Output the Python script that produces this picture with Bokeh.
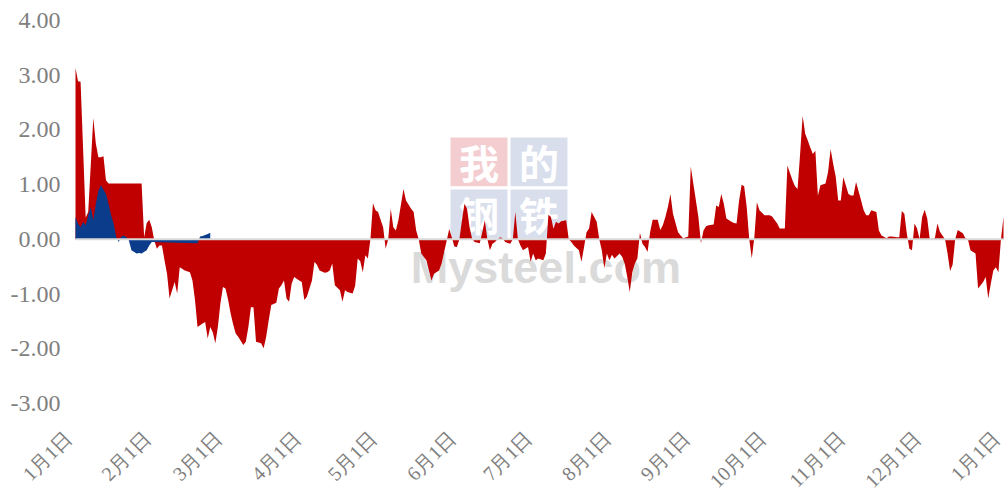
import math
from bokeh.plotting import figure
from bokeh.models import Range1d
from bokeh.embed import file_html
from bokeh.resources import INLINE
from bokeh.core.properties import value

# ---------------- data ----------------
month_days = [0, 31, 59, 90, 120, 151, 181, 212, 243, 273, 304, 334, 365]
month_labels = ["1月1日", "2月1日", "3月1日", "4月1日", "5月1日", "6月1日", "7月1日",
                "8月1日", "9月1日", "10月1日", "11月1日", "12月1日", "1月1日"]
y_ticks = [-3, -2, -1, 0, 1, 2, 3, 4]
y_labels = ["-3.00", "-2.00", "-1.00", "0.00", "1.00", "2.00", "3.00", "4.00"]

# red series: day offset from 1 Jan, value
red_day = [0, 1, 2, 4, 5, 7, 8, 9, 10, 11, 12, 13, 26, 27, 28, 29, 30, 31, 32, 33, 34, 35, 36, 37, 39, 40,
           41, 43, 45, 46, 47, 48, 50, 51, 52, 53, 54, 55, 56, 57, 58, 59, 60, 61, 62, 63, 64, 66, 67, 68,
           69, 70, 71, 73, 74, 75, 76, 77, 79, 80, 81, 82, 83, 84, 85, 86, 88, 89, 90, 91, 93, 94, 95, 96,
           98, 99, 100, 101, 102, 104, 105, 106, 107, 109, 110, 111, 112, 113, 114, 115, 116, 117, 118, 119,
           121, 122, 123, 124, 125, 126, 127, 129, 130, 132, 133, 134, 135, 136, 138, 139, 140, 141, 143,
           144, 145, 147, 148, 149, 150, 151, 152, 153, 154, 155, 156, 157, 159, 160, 161, 162, 163, 164,
           165, 166, 167, 168, 169, 171, 172, 173, 174, 175, 176, 178, 179, 180, 181, 182, 184, 185, 186,
           187, 188, 189, 190, 191, 193, 194, 195, 196, 198, 199, 200, 201, 202, 203, 205, 206, 207, 208,
           209, 210, 211, 212, 214, 215, 216, 217, 218, 219, 220, 221, 222, 223, 224, 225, 226, 227, 229,
           230, 231, 232, 233, 234, 235, 237, 238, 239, 241, 242, 243, 245, 246, 247, 248, 249, 251, 252,
           253, 254, 255, 256, 258, 259, 260, 261, 262, 263, 264, 265, 266, 267, 268, 269, 271, 273, 274,
           276, 277, 279, 280, 282, 283, 284, 285, 286, 287, 288, 289, 290, 291, 292, 293, 295, 296, 297,
           298, 299, 300, 301, 302, 304, 305, 306, 307, 309, 310, 311, 312, 313, 315, 316, 317, 319, 320,
           321, 323, 324, 325, 326, 327, 328, 329, 330, 331, 332, 333, 334, 335, 336, 338, 339, 340, 341,
           342, 343, 344, 345, 346, 347, 349, 350, 351, 352, 354, 355, 357, 358, 359, 360, 361, 362, 363,
           364, 365]
red_value = [3.13, 2.89, 2.88, 0.40, 0.50, 2.22, 1.75, 1.50, 1.50, 1.52, 1.08, 1.02, 1.02, 0.04, 0.30, 0.36,
             0.22, -0.02, -0.17, -0.11, -0.11, -0.38, -0.63, -1.08, -0.78, -0.99,
             -0.51, -0.57, -0.60, -0.75, -1.11, -1.60, -1.54, -1.51, -1.81, -1.60, -1.70, -1.90, -1.60,
             -1.17, -0.87, -0.90, -1.10, -1.35, -1.55, -1.72, -1.78, -1.93, -1.87, -1.60,
             -1.24, -1.24, -1.87, -1.90, -1.99, -1.78, -1.48, -1.20, -1.16, -0.90, -0.84, -0.75, -1.08,
             -1.14, -0.81, -0.69, -0.75, -0.78, -1.11, -1.05, -0.75, -0.41, -0.47, -0.57,
             -0.61, -0.60, -0.57, -0.44, -0.84, -0.93, -1.14, -0.93, -0.96, -0.99, -0.85, -0.35, -0.40,
             -0.60, -0.29, -0.35, 0.00, 0.66, 0.53, 0.50,
             0.22, -0.17, 0.00, 0.56, 0.22, 0.16, 0.35, 0.92, 0.71, 0.56, 0.50, 0.16, 0.00, -0.26, -0.38,
             -0.57, -0.75, -0.63, -0.57,
             -0.44, -0.23, 0.19, 0.04, -0.13, -0.14, 0.00, 0.35, 0.65, 0.56, 0.22, 0.01, -0.05, -0.07,
             0.13, 0.35, 0.00, -0.20, -0.08,
             -0.05, 0.00, 0.04, 0.02, -0.05, -0.08, 0.00, 0.50, 0.00, -0.11, -0.20, -0.14, -0.41, -0.26,
             -0.38, -0.35, -0.38, -0.26, 0.45,
             0.41, 0.20, 0.32, 0.29, 0.33, 0.35, 0.00, -0.05, -0.11, -0.20, -0.41, -0.15, 0.13, 0.20, 0.50,
             0.32, 0.00, -0.20, -0.53,
             -0.26, -0.38, -0.28, -0.35, -0.26, -0.32, -0.44, -0.68, -0.96, -0.60, -0.44, -0.35, 0.12,
             -0.08, -0.14, -0.23, 0.13, 0.36, 0.36,
             0.17, 0.26, 0.41, 0.59, 0.83, 0.47, 0.13, 0.07, 0.02, 0.05, 1.33, 1.02, 0.41, -0.07, 0.16,
             0.24, 0.26, 0.27, 0.62,
             0.59, 0.83, 0.65, 0.38, 0.32, 0.30, 0.29, 0.71, 1.00, 0.97, 0.59, 0.00, -0.35, 0.04, 0.68,
             0.53, 0.44, 0.44, 0.42,
             0.29, 0.20, 0.20, 1.35, 1.08, 0.97, 0.92, 1.56, 2.26, 1.93, 1.81, 1.68, 1.56, 1.62, 0.80,
             0.99, 1.02, 1.23, 1.65,
             1.38, 1.15, 0.71, 0.71, 1.14, 0.83, 0.80, 0.80, 1.05, 0.71, 0.53, 0.44, 0.44, 0.53, 0.50,
             0.16, 0.07, 0.02, 0.05,
             0.05, 0.04, 0.04, 0.52, 0.47, 0.10, -0.17, -0.20, 0.29, 0.20, 0.00, 0.41, 0.54, 0.38, 0.00,
             0.02, 0.29, 0.14, 0.07,
             0.00, -0.26, -0.58, -0.46, 0.00, 0.17, 0.11, 0.02, 0.00, -0.20, -0.26, -0.90, -0.78, -0.69,
             -1.08, -0.81, -0.57, -0.51, -0.60,
             0.00, 0.41]

# blue series (early part of the year only)
blue_day = [0, 1, 2, 3, 4, 5, 6, 7, 8, 9, 10, 12, 13, 14, 15, 16, 17, 18, 19, 20, 21, 22, 24, 25, 26, 28,
            29, 30, 40, 48, 49, 50, 52, 53]
blue_value = [0.41, 0.29, 0.22, 0.32, 0.26, 0.44, 0.59, 0.35, 0.65, 0.89, 0.99, 0.83, 0.65, 0.44, 0.29,
              0.05, -0.05, 0.05, 0.07, 0.04, -0.02, -0.20, -0.26, -0.25, -0.26, -0.20,
              -0.11, -0.05, -0.06, -0.07, 0.05, 0.06, 0.10, 0.12]

assert len(red_day) == len(red_value)
assert len(blue_day) == len(blue_value)

# ---------------- layout ----------------
# The plot area covers the whole canvas; the data region (1 Jan .. 1 Jan, -3 .. 4)
# sits inside it and the tick labels are placed around it with pixel offsets.
W, H = 1005, 495
data_left_px, data_right_px = 75, 1003     # canvas px of first / last day
data_top_px, data_bottom_px = 20, 403      # canvas px of 4.00 / -3.00
x0, x1 = month_days[0], month_days[-1]
y0, y1 = y_ticks[0], y_ticks[-1]
ppx = (data_right_px - data_left_px) / (x1 - x0)
ppy = (data_bottom_px - data_top_px) / (y1 - y0)
x_range = Range1d(x0 - data_left_px / ppx, x1 + (W - data_right_px) / ppx)
y_range = Range1d(y0 - (H - data_bottom_px) / ppy, y1 + data_top_px / ppy)

p = figure(width=W, height=H, output_backend="svg", toolbar_location=None,
           x_range=x_range, y_range=y_range,
           x_axis_location=None, y_axis_location=None,
           min_border_left=0, min_border_right=0, min_border_top=0, min_border_bottom=0)
p.background_fill_color = "white"
p.border_fill_color = "white"
p.outline_line_color = None
p.xgrid.grid_line_color = None
p.ygrid.grid_line_color = None

# watermark (decoration, beneath the data)
wm_left = [147.5, 171.1, 147.5, 171.1]
wm_right = [169.9, 193.5, 169.9, 193.5]
wm_top = [1.86, 1.86, 0.91, 0.91]
wm_bottom = [0.97, 0.97, 0.02, 0.02]
wm_color = ["#f3cdd0", "#d8deec", "#d8deec", "#d8deec"]
p.quad(left=wm_left, right=wm_right, top=wm_top, bottom=wm_bottom,
       fill_color=wm_color, line_color=None)
p.text(x=[(l + r) / 2 for l, r in zip(wm_left, wm_right)],
       y=[(t + b) / 2 for t, b in zip(wm_top, wm_bottom)],
       text=["我", "的", "钢", "铁"], text_color="white",
       text_font=value("Noto Sans CJK SC"), text_font_style="bold",
       text_font_size="40px", text_align="center", text_baseline="middle")
p.text(x=[185.0], y=[-0.51], text=["Mysteel.com"], text_color="#dadada",
       text_font=value("Liberation Sans"), text_font_style="bold",
       text_font_size="45px", text_align="center", text_baseline="alphabetic")

# areas
p.varea(x=red_day, y1=0, y2=red_value, fill_color="#c00000")
p.varea(x=blue_day, y1=0, y2=blue_value, fill_color="#0b3c8c")

# zero line (category axis line)
p.line(x=[x0, x1], y=[0, 0], line_color="#d9d9d9", line_width=2)

# y tick labels
p.text(x=[x0] * len(y_ticks), y=y_ticks, text=y_labels, x_offset=-15,
       text_align="right", text_baseline="middle",
       text_font=value("Liberation Serif"), text_font_size="24px", text_color="#808080")

# x tick labels (rotated 45 degrees, below the plot area)
p.text(x=month_days, y=[y0] * len(month_days), text=month_labels, x_offset=-7, y_offset=31,
       angle=math.pi / 4, text_align="right", text_baseline="middle",
       text_font=value("Liberation Serif"), text_font_size="20px", text_color="#808080")

open("out.html", "w").write(file_html(p, INLINE))
